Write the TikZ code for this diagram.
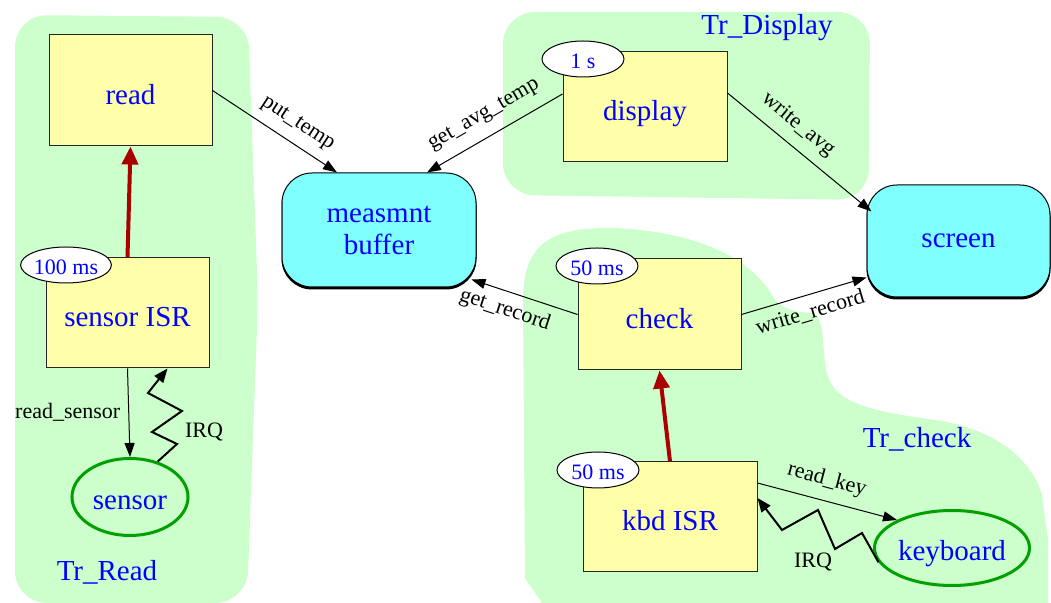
\documentclass[tikz,border=0pt]{standalone}
\usepackage{fontspec}
\setmainfont{Liberation Serif}
\usetikzlibrary{arrows.meta,shapes.geometric,calc,shadows}
\definecolor{grpfill}{RGB}{204,255,204}
\definecolor{procfill}{RGB}{255,255,170}
\definecolor{storefill}{RGB}{128,255,255}
\definecolor{txtblue}{RGB}{0,0,255}
\definecolor{dred}{RGB}{170,0,0}
\definecolor{dgreen}{RGB}{0,160,0}
\begin{document}
\begin{tikzpicture}[x=0.5pt,y=-0.5pt,
  grp/.style={fill=grpfill, draw=none},
  grplbl/.style={text=txtblue, font=\fontsize{14.5}{16}\selectfont, inner sep=0pt},
  proc/.style={rectangle, draw=black!85, line width=0.5pt, fill=procfill, inner sep=0pt, text=txtblue, text height=14pt, text depth=0pt, font=\fontsize{14.5}{16}\selectfont},
  store/.style={rectangle, rounded corners=15pt, draw=black, line width=0.5pt, fill=storefill, inner sep=0pt, align=center, text=txtblue, font=\fontsize{14.5}{16}\selectfont,
     copy shadow={shadow xshift=0pt, shadow yshift=-1pt, fill=black, draw=black}},
  dev/.style={ellipse, draw=dgreen, line width=1.5pt, inner sep=0pt, text=txtblue, text height=13pt, text depth=0pt, font=\fontsize{14.5}{16}\selectfont},
  timer/.style={ellipse, draw=black, line width=0.5pt, fill=white, inner sep=0pt, minimum width=41pt, minimum height=18pt, text=txtblue, text height=9.5pt, text depth=0pt, font=\fontsize{11}{12}\selectfont},
  lbl/.style={text=black, font=\fontsize{11}{12}\selectfont, inner sep=1pt},
  conn/.style={draw=black, line width=0.5pt, -{Triangle[length=7pt,width=5pt]}},
  trig/.style={draw=dred, line width=2pt, -{Triangle[length=9pt,width=8pt]}},
  irq/.style={draw=black, line width=1pt, line join=miter, -{Triangle[length=7pt,width=5.5pt]}}
]
\useasboundingbox (0,0) rectangle (1051,603);

% groups
\fill[grp, rounded corners=16pt] (15,15) -- (248,17) -- (258,300) -- (247,603) -- (15,603) -- cycle;
\fill[grp, rounded corners=16pt] (503,12) -- (870,12) -- (869,200) -- (503,195) -- cycle;
\fill[grp] (542,603) -- (525,578) -- (523,300)
  .. controls (523,240) and (555,228) .. (610,228)
  .. controls (680,230) and (745,250) .. (772,295)
  .. controls (782,312) and (800,312) .. (812,313)
  .. controls (825,316) and (822,345) .. (826,370)
  .. controls (832,400) and (860,410) .. (935,420)
  .. controls (990,428) and (1030,455) .. (1042,495)
  -- (1048,540) -- (1048,603) -- cycle;
\node[grplbl] (lread) at (107,572) {Tr\_Read};
\node[grplbl] (ldisp) at (767,28) {Tr\_Display};
\node[grplbl] (lcheck) at (917,439) {Tr\_check};

% nodes
\node[proc, minimum width=81.5pt, minimum height=55.5pt] (read) at (130.5,90.5) {read};
\node[proc, minimum width=81.5pt, minimum height=55pt] (sisr) at (127.5,313) {sensor ISR};
\node[proc, minimum width=82pt, minimum height=55pt] (disp) at (645,107) {display};
\node[proc, minimum width=81.5pt, minimum height=55.5pt] (check) at (659.5,314.5) {check};
\node[proc, minimum width=87pt, minimum height=55pt] (kbd) at (670,517) {kbd ISR};
\node[store, minimum width=97pt, minimum height=57pt] (buf) at (379,230) {measmnt\\buffer};
\node[store, minimum width=91.5pt, minimum height=56pt] (scr) at (958.5,241) {screen};
\node[dev, minimum width=58pt, minimum height=38.5pt] (sensor) at (130,497) {sensor};
\node[dev, minimum width=77.5pt, minimum height=37.5pt] (kb) at (952,548) {keyboard};

\node[timer] (t1) at (66,265) {100 ms};
\node[timer] (t2) at (583,59) {1 s};
\node[timer] (t3) at (597,266) {50 ms};
\node[timer] (t4) at (598,470) {50 ms};

% connectors
\draw[conn] (read.east) -- node[lbl, sloped, above=4pt, pos=0.6] {put\_temp} ($(buf.north)+(-42,0)$);
\draw[conn] ($(disp.west)+(0,-13)$) -- node[lbl, sloped, above=5pt, pos=0.5] {get\_avg\_temp} ($(buf.north)+(48,0)$);
\draw[conn] ($(disp.east)+(0,-14)$) -- node[lbl, sloped, above=4pt, pos=0.4] {write\_avg} ($(scr.north west)+(5,27)$);
\draw[conn] (check.west) -- node[lbl, sloped, below=3pt, pos=0.63] {get\_record} ($(buf.south east)+(-5,-8)$);
\draw[conn] (check.east) -- node[lbl, sloped, below=3pt, pos=0.51] {write\_record} ($(scr.south west)+(0,-20)$);
\draw[conn] ($(kbd.east)+(0,-34)$) -- node[lbl, sloped, above=4pt, pos=0.46] {read\_key} (kb.153);
\draw[conn] (sisr.south) -- node[lbl, left=3pt] {read\_sensor} (sensor.north);

\draw[trig] (sisr.north) -- (read.south);
\draw[trig] (kbd.north) -- (check.south);

\draw[irq] (sensor.52) -- (177,444) -- (152,432) -- (182,411) -- (148,393) -- ($(sisr.south)+(40,0)$);
\node[lbl] (irq1) at (204,432) {IRQ};
\draw[irq] (kb.191) -- (862,533) -- (835,549) -- (818,510) -- (782,530) -- ($(kbd.east)+(0,-19)$);
\node[lbl] (irq2) at (813,562) {IRQ};
\end{tikzpicture}
\end{document}
